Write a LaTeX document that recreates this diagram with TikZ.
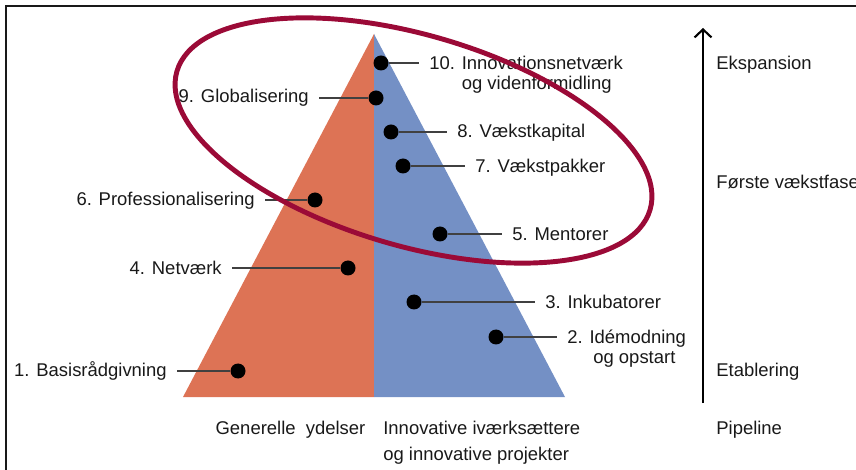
\documentclass[tikz,border=0pt]{standalone}
\usepackage{fontspec}
\setmainfont{Liberation Sans}
\usetikzlibrary{arrows.meta}
\definecolor{orangeside}{RGB}{221,115,85}
\definecolor{blueside}{RGB}{116,144,197}
\definecolor{ringred}{RGB}{155,10,55}

\begin{document}
\begin{tikzpicture}[
  dot/.style={circle,fill=black,inner sep=0pt,minimum size=0.3cm},
  lbl/.style={inner xsep=0.2cm,inner ysep=0pt,text height=7.5pt,text depth=0pt,
    font=\fontsize{10.5}{12}\selectfont,text=black!90},
  lbltwo/.style={inner xsep=0.2cm,inner ysep=0pt,align=left,
    font=\fontsize{10.5}{11.3}\selectfont,text=black!90},
  lead/.style={black!75,line width=0.6pt},
  phase/.style={inner sep=0pt,anchor=west,text height=7.5pt,text depth=0pt,
    font=\fontsize{10.5}{12}\selectfont,text=black!90}]
  \useasboundingbox (0,0) rectangle (17.12,9.38);

  % frame
  \draw [black!90,line width=1.1pt] (0.12,-0.3) -- (0.12,9.26) -- (17.5,9.26);

  % pyramid
  \fill [orangeside] (3.66,1.44) -- (7.48,8.70) -- (7.48,1.44) -- cycle;
  \fill [blueside] (7.48,1.44) -- (7.48,8.70) -- (11.30,1.44) -- cycle;

  % dots
  \node [dot] (d10) at (7.62,8.12) {};
  \node [dot] (d9) at (7.52,7.42) {};
  \node [dot] (d8) at (7.82,6.74) {};
  \node [dot] (d7) at (8.06,6.06) {};
  \node [dot] (d6) at (6.30,5.38) {};
  \node [dot] (d5) at (8.80,4.70) {};
  \node [dot] (d4) at (6.96,4.02) {};
  \node [dot] (d3) at (8.28,3.34) {};
  \node [dot] (d2) at (9.92,2.64) {};
  \node [dot] (d1) at (4.76,1.96) {};

  % labels
  \node [lbltwo,anchor=north west] (l10) at (8.38,8.27)
    {10. Innovationsnetværk\\\phantom{10. }og videnformidling};
  \node [lbl,anchor=east] (l9) at (6.38,7.46) {9. Globalisering};
  \node [lbl,anchor=west] (l8) at (8.94,6.76) {8. Vækstkapital};
  \node [lbl,anchor=west] (l7) at (9.30,6.06) {7. Vækstpakker};
  \node [lbl,anchor=east] (l6) at (5.30,5.40) {6. Professionalisering};
  \node [lbl,anchor=west] (l5) at (10.04,4.70) {5. Mentorer};
  \node [lbl,anchor=east] (l4) at (4.64,4.02) {4. Netværk};
  \node [lbl,anchor=west] (l3) at (10.70,3.34) {3. Inkubatorer};
  \node [lbltwo,anchor=north west] (l2) at (11.14,2.79)
    {2. Idémodning\\\hspace*{0.52cm}og opstart};
  \node [lbl,anchor=east] (l1) at (3.54,1.98) {1. Basisrådgivning};

  \draw [lead] (d10) -- (l10.west |- d10);
  \draw [lead] (d9) -- (l9.east |- d9);
  \draw [lead] (d8) -- (l8.west |- d8);
  \draw [lead] (d7) -- (l7.west |- d7);
  \draw [lead] (d6) -- (l6.east |- d6);
  \draw [lead] (d5) -- (l5.west |- d5);
  \draw [lead] (d4) -- (l4.east |- d4);
  \draw [lead] (d3) -- (l3.west |- d3);
  \draw [lead] (d2) -- (l2.west |- d2);
  \draw [lead] (d1) -- (l1.east |- d1);

  % bottom captions
  \node [lbl,anchor=center,inner xsep=0pt] (gen) at (5.81,0.82) {Generelle\ \ ydelser};
  \node [lbltwo,anchor=north west,inner xsep=0pt,font=\fontsize{10.5}{14.7}\selectfont]
    (innov) at (7.66,0.96) {Innovative iværksættere\\og innovative projekter};

  % pipeline
  \coordinate (pbot) at (14.06,1.32);
  \coordinate (ptop) at (14.06,8.82);
  \draw [line width=1.2pt,-{Straight Barb[length=0.16cm,width=0.34cm]}] (pbot) -- (ptop);
  \node [phase] (eksp) at (14.32,8.12) {Ekspansion};
  \node [phase] (forste) at (14.32,5.74) {Første vækstfase};
  \node [phase] (etab) at (14.32,1.98) {Etablering};
  \node [phase] (pipe) at (14.32,0.82) {Pipeline};

  % ring
  \draw [ringred,line width=2.8pt,rotate around={-16.3:(8.27,6.57)}]
    (8.27,6.57) ellipse (4.93 and 2.11);
\end{tikzpicture}
\end{document}
